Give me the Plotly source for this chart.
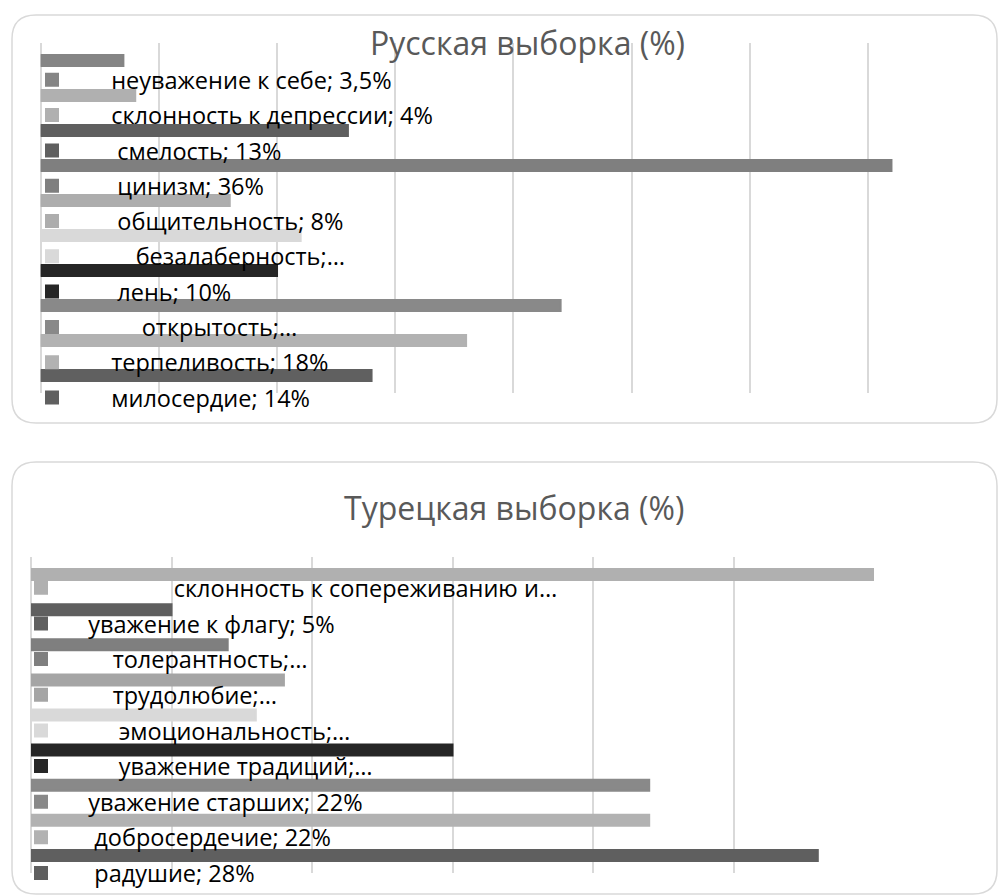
import plotly.graph_objects as go

# ---------------- data ----------------
ru_traits = ["неуважение к себе", "склонность к депрессии", "смелость", "цинизм",
             "общительность", "безалаберность", "лень", "открытость",
             "терпеливость", "милосердие"]
ru_values = [3.5, 4, 13, 36, 8, 11, 10, 22, 18, 14]
ru_labels = ["неуважение к себе; 3,5%", "склонность к депрессии; 4%", "смелость; 13%",
             "цинизм; 36%", "общительность; 8%", "безалаберность;…", "лень; 10%",
             "открытость;…", "терпеливость; 18%", "милосердие; 14%"]

tr_traits = ["склонность к сопереживанию", "уважение к флагу", "толерантность",
             "трудолюбие", "эмоциональность", "уважение традиций", "уважение старших",
             "добросердечие", "радушие"]
tr_values = [30, 5, 7, 9, 8, 15, 22, 22, 28]
tr_labels = ["склонность к сопереживанию и…", "уважение к флагу; 5%", "толерантность;…",
             "трудолюбие;…", "эмоциональность;…", "уважение традиций;…",
             "уважение старших; 22%", "добросердечие; 22%", "радушие; 28%"]

ru_title = "Русская выборка (%)"
tr_title = "Турецкая выборка (%)"

# ---------------- style ----------------
ru_colors = ["#858585", "#b0b0b0", "#5f5f5f", "#7f7f7f", "#adadad",
             "#d9d9d9", "#262626", "#898989", "#b2b2b2", "#606060"]
tr_colors = ["#b0b0b0", "#5f5f5f", "#7f7f7f", "#a5a5a5", "#d9d9d9",
             "#262626", "#898989", "#b2b2b2", "#5f5f5f"]
ru_pad = [2, 2, 3, 3, 3, 6, 3, 7, 2, 2]
tr_pad = [16, 2, 6, 6, 7, 7, 2, 3, 3]

FW, FH = 1000, 896
def px(x):
    return x / FW
def py(y):
    return 1 - y / FH

NB = "\u00a0"
fig = go.Figure()

for i, (t, v, lab, c, p) in enumerate(zip(ru_traits, ru_values, ru_labels, ru_colors, ru_pad)):
    fig.add_trace(go.Bar(x=[v], y=[t], orientation="h", name=NB * p + lab,
                         marker=dict(color=c, line=dict(color=c, width=2)),
                         legendgroup="ru%d" % i, legend="legend",
                         xaxis="x", yaxis="y", hoverinfo="skip"))

for i, (t, v, lab, c, p) in enumerate(zip(tr_traits, tr_values, tr_labels, tr_colors, tr_pad)):
    fig.add_trace(go.Bar(x=[v], y=[t], orientation="h", name=NB * p + lab,
                         marker=dict(color=c, line=dict(color=c, width=2)),
                         legendgroup="tr%d" % i, legend="legend2",
                         xaxis="x2", yaxis="y2", hoverinfo="skip"))

grid = dict(showgrid=True, gridcolor="#d9d9d9", gridwidth=2, zeroline=True,
            zerolinecolor="#d9d9d9", zerolinewidth=2, showticklabels=False,
            ticks="", showline=False, dtick=5, fixedrange=True)
cat = dict(showgrid=False, showticklabels=False, ticks="", showline=False,
           zeroline=False, autorange="reversed", fixedrange=True)

def rounded(x0, y0, x1, y1, r):
    pts = []
    pts.append("M %f,%f" % (px(x0 + r), py(y0)))
    pts.append("L %f,%f" % (px(x1 - r), py(y0)))
    pts.append("Q %f,%f %f,%f" % (px(x1), py(y0), px(x1), py(y0 + r)))
    pts.append("L %f,%f" % (px(x1), py(y1 - r)))
    pts.append("Q %f,%f %f,%f" % (px(x1), py(y1), px(x1 - r), py(y1)))
    pts.append("L %f,%f" % (px(x0 + r), py(y1)))
    pts.append("Q %f,%f %f,%f" % (px(x0), py(y1), px(x0), py(y1 - r)))
    pts.append("L %f,%f" % (px(x0), py(y0 + r)))
    pts.append("Q %f,%f %f,%f" % (px(x0), py(y0), px(x0 + r), py(y0)))
    pts.append("Z")
    return " ".join(pts)

legfont = dict(family="Open Sans, Noto Sans, sans-serif", size=23.5, color="#000000")
titlefont = dict(family="Open Sans, sans-serif", size=32, color="#595959")

fig.update_layout(
    width=FW, height=FH,
    margin=dict(l=0, r=0, t=0, b=0, autoexpand=False),
    paper_bgcolor="white", plot_bgcolor="rgba(0,0,0,0)",
    barmode="overlay", bargap=0.686,
    xaxis=dict(domain=[px(40.7), px(986)], range=[0, 40], anchor="y", **grid),
    yaxis=dict(domain=[py(393), py(43)], anchor="x", **cat),
    xaxis2=dict(domain=[px(31), px(874)], range=[0, 30], anchor="y2", **grid),
    yaxis2=dict(domain=[py(873), py(557)], anchor="x2", **cat),
    legend=dict(x=px(5), y=py(58), xanchor="left", yanchor="top",
                bgcolor="rgba(0,0,0,0)", font=legfont, traceorder="grouped",
                tracegroupgap=1.75, itemwidth=84, borderwidth=0),
    legend2=dict(x=px(6), y=py(566), xanchor="left", yanchor="top",
                 bgcolor="rgba(0,0,0,0)", font=legfont, traceorder="grouped",
                 tracegroupgap=2.1, itemwidth=60, borderwidth=0),
    shapes=[
        dict(type="path", xref="paper", yref="paper", layer="below",
             path=rounded(12, 15, 997, 423, 24), line=dict(color="#d9d9d9", width=1.5)),
        dict(type="path", xref="paper", yref="paper", layer="below",
             path=rounded(12, 462, 997, 894, 24), line=dict(color="#d9d9d9", width=1.5)),
    ],
    annotations=[
        dict(text=ru_title, xref="paper", yref="paper", x=px(527), y=py(43),
             xanchor="center", yanchor="middle", showarrow=False, font=titlefont),
        dict(text=tr_title, xref="paper", yref="paper", x=px(514), y=py(507),
             xanchor="center", yanchor="middle", showarrow=False, font=titlefont),
    ],
)

fig.write_html("out.html",
               config={"displayModeBar": False},
               post_script="document.body.style.margin='0px';"
                           "document.body.style.overflow='hidden';")
